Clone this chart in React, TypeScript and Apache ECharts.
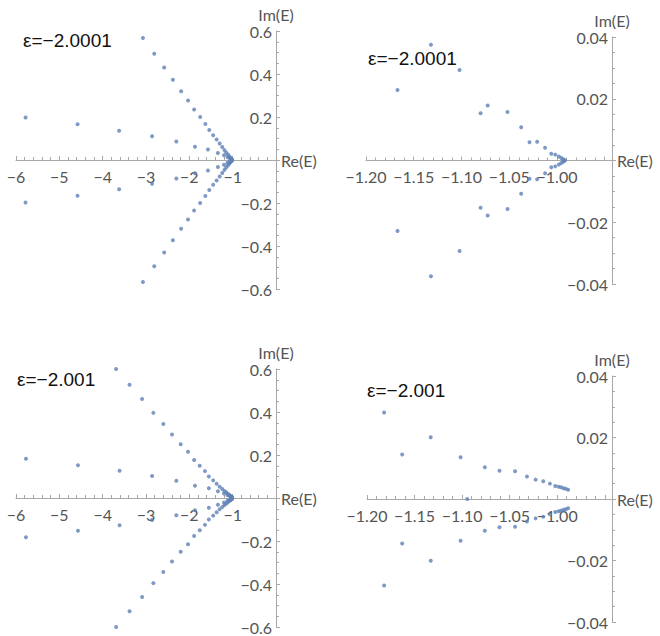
import React, { useEffect, useRef } from "react";
import * as echarts from "echarts";

// ---- panel titles ----
const titles = ["ε=−2.0001", "ε=−2.0001", "ε=−2.001", "ε=−2.001"];

// ---- top-left (ε = -2.0001), wide view ----
const tlRe = [
  -3.07, -2.81, -2.58, -2.38, -2.19, -2.03, -1.89, -1.75, -1.63, -1.54, -1.45, -1.37, -1.30, -1.24, -1.19,
  -1.15, -1.11, -1.08, -1.06, -1.04, -1.025, -1.012,
  -5.78, -4.58, -3.62, -2.86, -2.30, -1.87, -1.57, -1.34, -1.20, -1.12, -1.06,
];
const tlImUp = [
  0.567, 0.494, 0.43, 0.373, 0.32, 0.277, 0.235, 0.2, 0.167, 0.14, 0.115, 0.095, 0.077, 0.06, 0.046,
  0.035, 0.026, 0.018, 0.012, 0.007, 0.004, 0.002,
  0.198, 0.166, 0.136, 0.11, 0.086, 0.062, 0.049, 0.033, 0.022, 0.013, 0.006,
];
const tlImDown = [
  -0.567, -0.494, -0.43, -0.373, -0.32, -0.277, -0.235, -0.2, -0.167, -0.14, -0.115, -0.095, -0.077, -0.06, -0.046,
  -0.035, -0.026, -0.018, -0.012, -0.007, -0.004, -0.002,
  -0.198, -0.166, -0.136, -0.11, -0.086, -0.062, -0.049, -0.033, -0.022, -0.013, -0.006,
];

// ---- top-right (ε = -2.0001), zoom near -1 ----
const trRe = [
  -1.167, -1.132, -1.102, -1.08, -1.0726, -1.0518, -1.0375, -1.0288, -1.0208, -1.0125, -1.006, -1.0018,
  -0.998, -0.9955, -0.9935, -0.992,
];
const trImUp = [
  0.0228, 0.0375, 0.0293, 0.0153, 0.0178, 0.0157, 0.0108, 0.0059, 0.0061, 0.0041, 0.0022, 0.0019,
  0.0013, 0.0008, 0.0004, 0.0001,
];
const trImDown = [
  -0.0228, -0.0375, -0.0293, -0.0153, -0.0178, -0.0157, -0.0108, -0.0059, -0.0061, -0.0041, -0.0022, -0.0019,
  -0.0013, -0.0008, -0.0004, -0.0001,
];

// ---- bottom-left (ε = -2.001), wide view ----
const blRe = [
  -3.69, -3.38, -3.09, -2.83, -2.60, -2.40, -2.20, -2.03, -1.89, -1.76, -1.64, -1.55, -1.45, -1.37, -1.30,
  -1.24, -1.19, -1.15, -1.11, -1.08, -1.055, -1.035, -1.02, -1.01,
  -5.77, -4.57, -3.61, -2.86, -2.30, -1.87, -1.55, -1.34, -1.20, -1.12, -1.06,
];
const blImUp = [
  0.6, 0.527, 0.46, 0.396, 0.344, 0.295, 0.25, 0.215, 0.177, 0.15, 0.125, 0.1, 0.082, 0.066, 0.052,
  0.042, 0.033, 0.027, 0.02, 0.014, 0.01, 0.007, 0.0045, 0.003,
  0.183, 0.152, 0.127, 0.102, 0.08, 0.057, 0.045, 0.031, 0.021, 0.013, 0.008,
];
const blImDown = [
  -0.6, -0.527, -0.46, -0.396, -0.344, -0.295, -0.25, -0.215, -0.177, -0.15, -0.125, -0.1, -0.082, -0.066, -0.052,
  -0.042, -0.033, -0.027, -0.02, -0.014, -0.01, -0.007, -0.0045, -0.003,
  -0.183, -0.152, -0.127, -0.102, -0.08, -0.057, -0.045, -0.031, -0.021, -0.013, -0.008,
];

// ---- bottom-right (ε = -2.001), zoom near -1 ----
const brRe = [
  -1.182, -1.163, -1.133, -1.1016, -1.0761, -1.0607, -1.0443, -1.0318, -1.0227, -1.0147, -1.0077, -1.0021,
  -0.9986, -0.996, -0.9934, -0.991, -0.9885,
];
const brImUp = [
  0.0281, 0.0145, 0.0201, 0.0136, 0.0103, 0.0092, 0.009, 0.0073, 0.0063, 0.0058, 0.005, 0.0042,
  0.004, 0.0038, 0.0035, 0.0033, 0.003,
];
const brImDown = [
  -0.0281, -0.0145, -0.0201, -0.0136, -0.0103, -0.0092, -0.009, -0.0073, -0.0063, -0.0058, -0.005, -0.0042,
  -0.004, -0.0038, -0.0035, -0.0033, -0.003,
];
const brRealRe = [-1.0946];
const brRealIm = [0];

const FONT = "Lato, 'Open Sans', sans-serif";
const AXIS = "#a8a8a8";
const LABEL = "#555555";
const DOT = "#5e81b5";
const FS = 16;

function fmt(v: number, d: number) {
  const s = Math.abs(v).toFixed(d);
  return (v < -1e-9 ? "\u2212" : "") + s;
}

function pts(re: number[], im: number[]) {
  return re.map((r, k) => [r, im[k]]);
}

type PanelCfg = {
  grid: { left: number; top: number; width: number; height: number };
  x: { min: number; max: number; interval: number; split: number; dec: number; labelMax: number };
  y: { min: number; max: number; interval: number; split: number; dec: number };
};

const panels: PanelCfg[] = [
  {
    grid: { left: 16, top: 31, width: 260, height: 258 },
    x: { min: -6, max: 0, interval: 1, split: 5, dec: 0, labelMax: -0.5 },
    y: { min: -0.6, max: 0.6, interval: 0.2, split: 4, dec: 1 },
  },
  {
    grid: { left: 366, top: 37, width: 246, height: 247 },
    x: { min: -1.2, max: -0.9424, interval: 0.05, split: 5, dec: 2, labelMax: -0.999 },
    y: { min: -0.04, max: 0.04, interval: 0.02, split: 4, dec: 2 },
  },
  {
    grid: { left: 16, top: 369, width: 260, height: 258 },
    x: { min: -6, max: 0, interval: 1, split: 5, dec: 0, labelMax: -0.5 },
    y: { min: -0.6, max: 0.6, interval: 0.2, split: 4, dec: 1 },
  },
  {
    grid: { left: 367, top: 376, width: 245, height: 246 },
    x: { min: -1.2, max: -0.9424, interval: 0.05, split: 5, dec: 2, labelMax: -0.999 },
    y: { min: -0.04, max: 0.04, interval: 0.02, split: 4, dec: 2 },
  },
];

const titlePos = [
  [23, 42],
  [368, 60],
  [17, 381],
  [367, 392],
];

export default function App() {
  const ref = useRef<HTMLDivElement>(null);
  useEffect(() => {
    if (!ref.current) return;
    const chart = echarts.init(ref.current, undefined, { renderer: "svg" });

    const grids: any[] = [];
    const xAxes: any[] = [];
    const yAxes: any[] = [];
    const series: any[] = [];

    const dataSets = [
      [pts(tlRe, tlImUp), pts(tlRe, tlImDown)],
      [pts(trRe, trImUp), pts(trRe, trImDown)],
      [pts(blRe, blImUp), pts(blRe, blImDown)],
      [pts(brRe, brImUp), pts(brRe, brImDown), pts(brRealRe, brRealIm)],
    ];

    panels.forEach((p, i) => {
      const g = p.grid;
      // plotting grid (full rectangle)
      const plotIdx = grids.length;
      grids.push({ ...g, containLabel: false });
      xAxes.push({
        type: "value",
        gridIndex: plotIdx,
        min: p.x.min,
        max: p.x.max,
        show: false,
      });
      yAxes.push({
        type: "value",
        gridIndex: plotIdx,
        min: p.y.min,
        max: p.y.max,
        interval: p.y.interval,
        position: "right",
        name: "Im(E)",
        nameLocation: "end",
        nameGap: 9,
        nameTextStyle: { color: LABEL, fontSize: FS, fontFamily: FONT, align: "center" },
        axisLine: { show: true, onZero: false, lineStyle: { color: AXIS, width: 1 } },
        axisTick: { show: true, inside: false, length: 4, lineStyle: { color: AXIS } },
        minorTick: { show: true, splitNumber: p.y.split, length: 3, lineStyle: { color: AXIS } },
        splitLine: { show: false },
        axisLabel: {
          inside: true,
          interval: 0,
          margin: 4,
          color: LABEL,
          fontSize: FS,
          fontFamily: FONT,
          formatter: (v: number) => (Math.abs(v) < 1e-9 ? "" : fmt(v, p.y.dec)),
        },
      });
      dataSets[i].forEach((d) => {
        series.push({
          type: "scatter",
          xAxisIndex: plotIdx,
          yAxisIndex: plotIdx,
          data: d,
          symbol: "circle",
          symbolSize: 4,
          itemStyle: { color: DOT },
          silent: true,
        });
      });

      // axis grid: its bottom edge sits on Im(E) = 0
      const zeroFrac = p.y.max / (p.y.max - p.y.min);
      const axIdx = grids.length;
      grids.push({
        left: g.left,
        top: g.top,
        width: g.width,
        height: g.height * zeroFrac,
        containLabel: false,
      });
      xAxes.push({
        type: "value",
        gridIndex: axIdx,
        min: p.x.min,
        max: p.x.max,
        interval: p.x.interval,
        position: "bottom",
        name: "Re(E)",
        nameLocation: "end",
        nameGap: 5,
        nameTextStyle: { color: LABEL, fontSize: FS, fontFamily: FONT, verticalAlign: "middle" },
        axisLine: { show: true, onZero: false, lineStyle: { color: AXIS, width: 1 } },
        axisTick: { show: true, inside: true, length: 4, lineStyle: { color: AXIS } },
        minorTick: { show: true, splitNumber: p.x.split, length: 3, lineStyle: { color: AXIS } },
        splitLine: { show: false },
        axisLabel: {
          interval: 0,
          margin: 8,
          color: LABEL,
          fontSize: FS,
          fontFamily: FONT,
          showMinLabel: true,
          showMaxLabel: true,
          formatter: (v: number) => (v <= p.x.labelMax + 1e-9 ? fmt(v, p.x.dec) : ""),
        },
      });
      yAxes.push({
        type: "value",
        gridIndex: axIdx,
        min: 0,
        max: 1,
        show: false,
      });
    });

    const graphic = titles.map((t, i) => ({
      type: "text",
      left: titlePos[i][0],
      top: titlePos[i][1] - 11,
      style: {
        text: t,
        fill: "#111",
        fontSize: 19,
        fontFamily: "'Liberation Sans', Arial, sans-serif",
      },
    }));

    chart.setOption({
      animation: false,
      backgroundColor: "#ffffff",
      grid: grids,
      xAxis: xAxes,
      yAxis: yAxes,
      series,
      graphic,
    });
    return () => chart.dispose();
  }, []);
  return (
    <div
      ref={ref}
      style={{ position: "absolute", left: 0, top: 0, width: 660, height: 636 }}
    />
  );
}
